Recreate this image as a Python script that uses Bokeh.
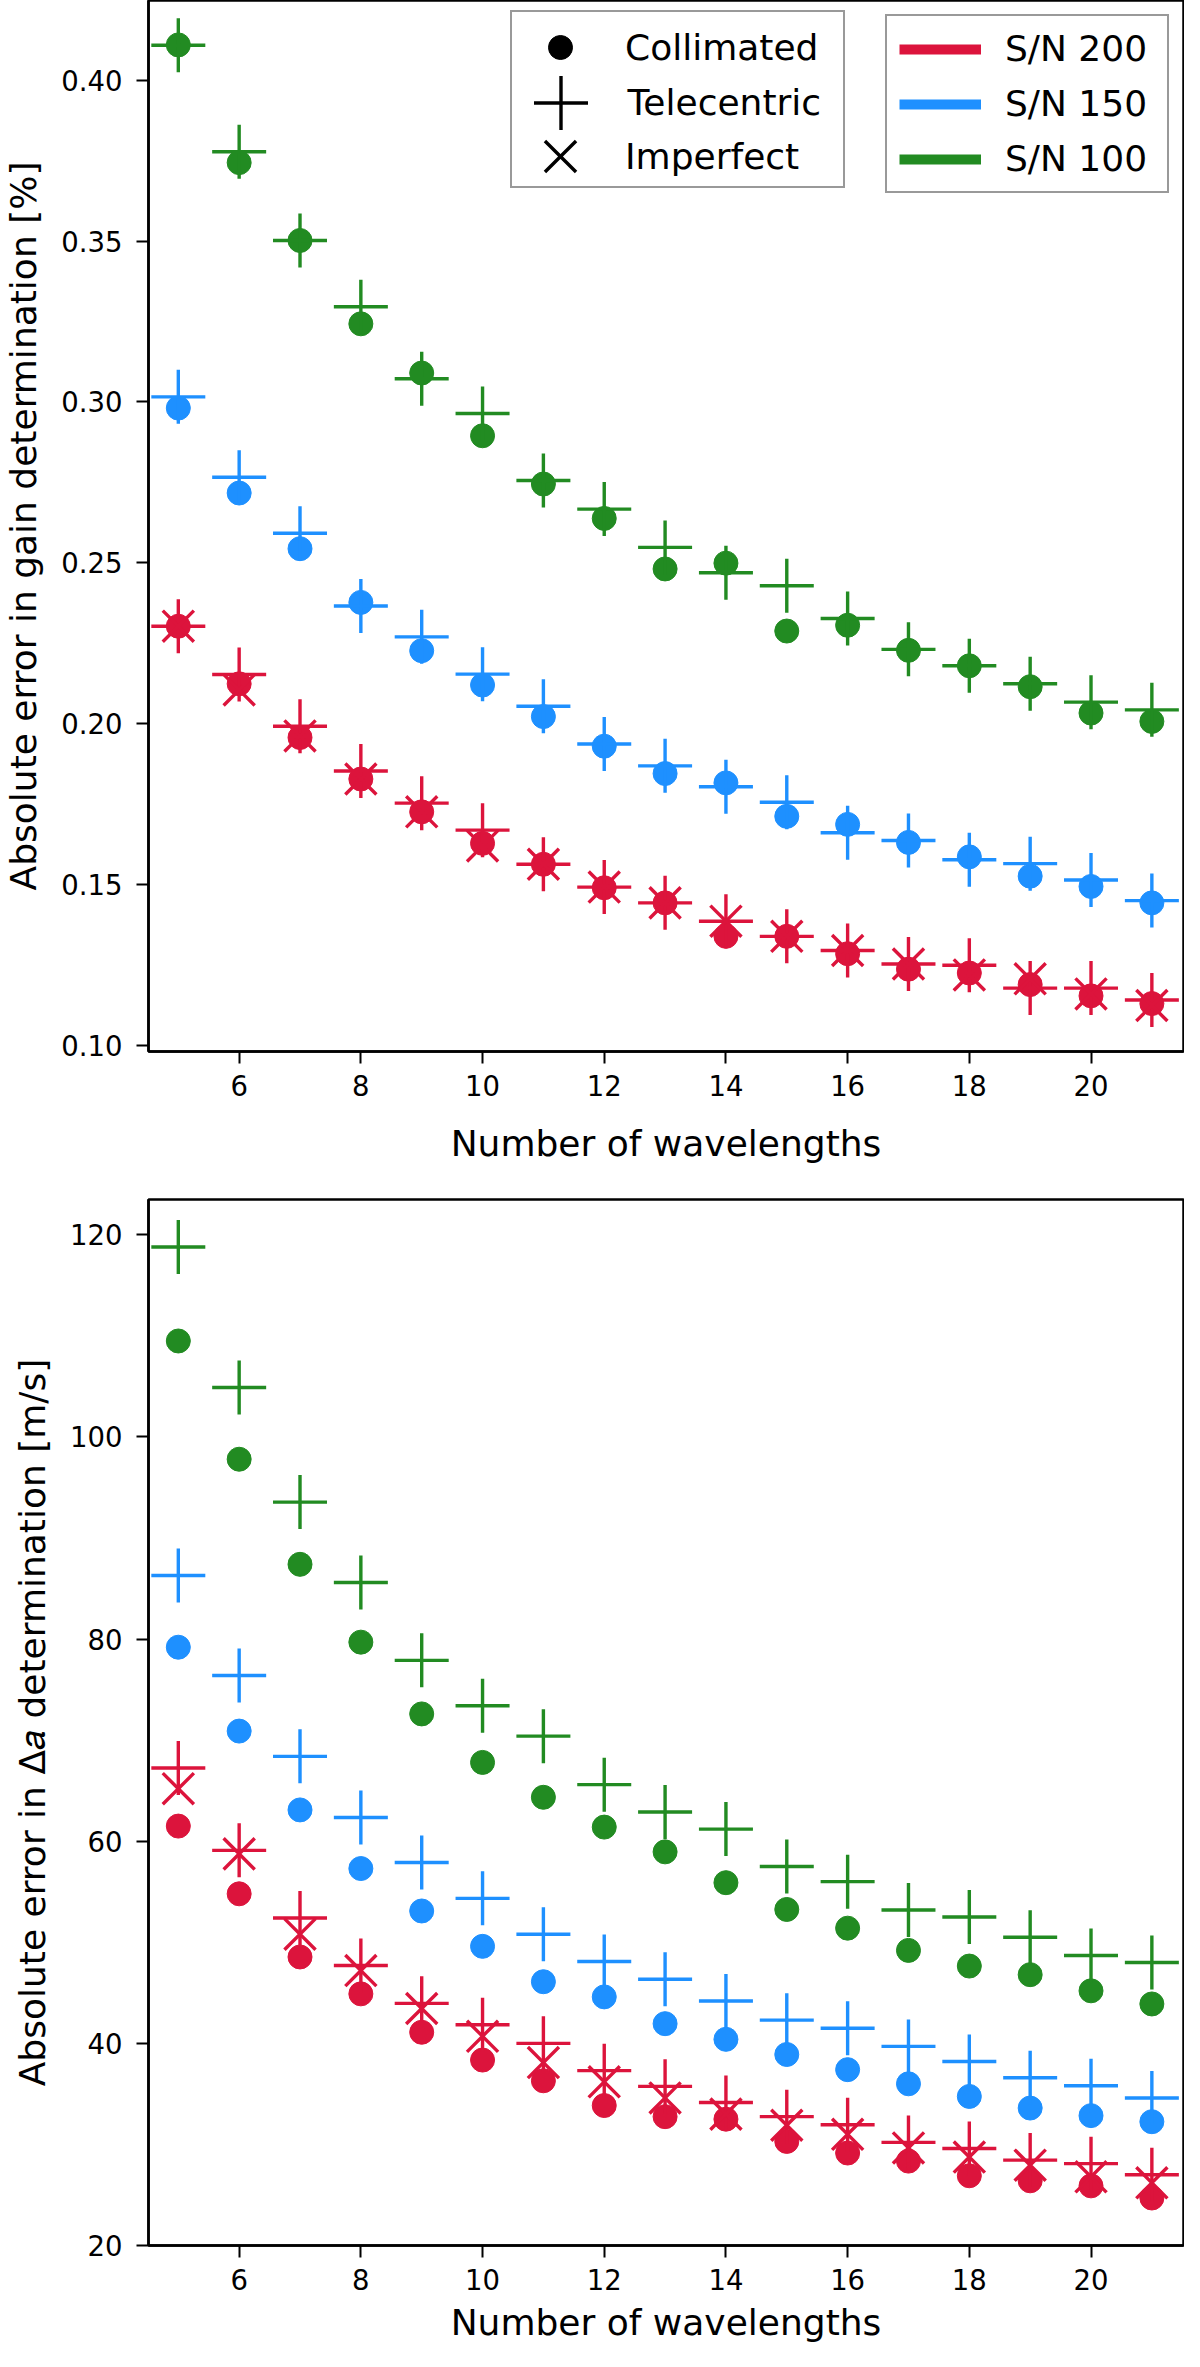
from bokeh.plotting import figure
from bokeh.layouts import column
from bokeh.models import Legend, LegendItem, Range1d, FixedTicker, NumeralTickFormatter
from bokeh.embed import file_html
from bokeh.resources import INLINE

# Number of wavelengths (x axis, both panels)
wavelengths = list(range(5, 22))

# Absolute error in gain determination [%]
gain_coll_200 = [0.2303, 0.2124, 0.1957, 0.1828, 0.1726, 0.1628, 0.1563, 0.1490, 0.1443,
                 0.1339, 0.1339, 0.1285, 0.1237, 0.1225, 0.1189, 0.1154, 0.1130]
gain_tele_200 = [0.2303, 0.2153, 0.1992, 0.1853, 0.1753, 0.1669, 0.1563, 0.1492, 0.1443,
                 0.1386, 0.1339, 0.1295, 0.1253, 0.1249, 0.1178, 0.1178, 0.1141]
gain_imp_200 = [0.2303, 0.2105, 0.1962, 0.1828, 0.1726, 0.1620, 0.1563, 0.1492, 0.1443,
                0.1386, 0.1339, 0.1295, 0.1253, 0.1219, 0.1207, 0.1160, 0.1124]
gain_coll_150 = [0.2981, 0.2717, 0.2544, 0.2377, 0.2227, 0.2120, 0.2022, 0.1930, 0.1845,
                 0.1816, 0.1712, 0.1687, 0.1631, 0.1586, 0.1526, 0.1494, 0.1443]
gain_tele_150 = [0.3016, 0.2766, 0.2592, 0.2366, 0.2270, 0.2154, 0.2054, 0.1937, 0.1869,
                 0.1804, 0.1756, 0.1661, 0.1637, 0.1577, 0.1565, 0.1514, 0.1450]
gain_coll_100 = [0.4110, 0.3744, 0.3502, 0.3243, 0.3090, 0.2895, 0.2745, 0.2638, 0.2481,
                 0.2499, 0.2288, 0.2306, 0.2228, 0.2180, 0.2115, 0.2033, 0.2007]
gain_tele_100 = [0.4109, 0.3778, 0.3502, 0.3296, 0.3072, 0.2964, 0.2756, 0.2667, 0.2548,
                 0.2469, 0.2429, 0.2327, 0.2231, 0.2180, 0.2124, 0.2067, 0.2043]

# Absolute error in delta-a determination [m/s]
da_coll_200 = [61.5, 54.8, 48.55, 44.9, 41.1, 38.35, 36.3, 33.85, 32.75, 32.5, 30.3,
               29.15, 28.35, 26.9, 26.4, 25.9, 24.7]
da_tele_200 = [67.25, 59.1, 52.4, 47.7, 43.96, 41.85, 40.0, 37.3, 35.75, 34.15, 32.75,
               31.95, 30.2, 29.6, 28.45, 28.1, 27.0]
da_imp_200 = [65.2, 58.75, 50.8, 47.2, 43.45, 40.7, 38.1, 36.2, 34.6, 33.0, 31.9,
              31.0, 29.65, 28.75, 27.95, 26.8, 26.2]
da_coll_150 = [79.2, 70.9, 63.1, 57.3, 53.1, 49.6, 46.1, 44.6, 41.95, 40.4, 38.9,
               37.4, 36.0, 34.75, 33.6, 32.85, 32.25]
da_tele_150 = [86.3, 76.4, 68.4, 62.35, 57.9, 54.35, 50.8, 48.1, 46.35, 44.2, 42.3,
               41.5, 39.7, 38.2, 36.6, 35.8, 34.6]
da_coll_100 = [109.5, 97.8, 87.4, 79.7, 72.6, 67.8, 64.35, 61.4, 58.95, 55.9, 53.25,
               51.4, 49.2, 47.65, 46.8, 45.2, 43.9]
da_tele_100 = [118.8, 104.9, 93.56, 85.6, 77.9, 73.4, 70.4, 65.6, 62.9, 61.2, 57.5,
               56.0, 53.2, 52.5, 50.5, 48.7, 48.0]

x_ticks = [6, 8, 10, 12, 14, 16, 18, 20]
gain_ticks = [0.10, 0.15, 0.20, 0.25, 0.30, 0.35, 0.40]
da_ticks = [20, 40, 60, 80, 100, 120]

sn_labels = ["S/N 200", "S/N 150", "S/N 100"]
sn_colors = ["#DC143C", "#1E90FF", "#228B22"]

FONT = "DejaVu Sans"
NAN = float("nan")
FH1 = 1051  # frame height of the top panel, used to place the legends
LW = 3.4


def style_axes(p, ylabel, yticks, label_gap):
    p.xgrid.visible = False
    p.ygrid.visible = False
    p.outline_line_color = "black"
    p.outline_line_width = 2.5
    for ax in (p.xaxis[0], p.yaxis[0]):
        ax.axis_line_width = 2.5
        ax.axis_line_color = "black"
        ax.major_tick_out = 12
        ax.major_tick_in = 0
        ax.major_tick_line_width = 2
        ax.minor_tick_line_color = None
        ax.major_label_text_font = FONT
        ax.major_label_text_font_size = "27.5px"
        ax.major_label_text_color = "black"
        ax.axis_label_text_font = FONT
        ax.axis_label_text_font_size = "36px"
        ax.axis_label_text_font_style = "normal"
        ax.axis_label_text_color = "black"
    p.xaxis[0].ticker = FixedTicker(ticks=x_ticks)
    p.xaxis[0].axis_label = "Number of wavelengths"
    p.xaxis[0].major_label_standoff = 11
    p.xaxis[0].axis_label_standoff = label_gap
    p.yaxis[0].ticker = FixedTicker(ticks=yticks)
    p.yaxis[0].axis_label = ylabel
    p.yaxis[0].major_label_standoff = 14
    p.yaxis[0].axis_label_standoff = 14


def draw_series(p, coll, tele, imp):
    for i, color in enumerate(sn_colors):
        p.scatter(wavelengths, coll[i], marker="circle", size=24, color=color)
        p.scatter(wavelengths, tele[i], marker="cross", size=54, line_color=color, line_width=LW)
        if imp[i] is not None:
            p.scatter(wavelengths, imp[i], marker="x", size=44, line_color=color, line_width=LW)


# ---------------- top panel: gain ----------------
p1 = figure(width=1184, height=FH1 + 122, x_range=Range1d(4.51, 21.52), y_range=Range1d(0.0981, 0.4248),
            output_backend="svg", toolbar_location=None,
            min_border_left=131, min_border_right=1, min_border_top=0, min_border_bottom=122)
style_axes(p1, "Absolute error in gain determination [%]", gain_ticks, 24)
p1.yaxis[0].formatter = NumeralTickFormatter(format="0.00")
draw_series(p1, [gain_coll_200, gain_coll_150, gain_coll_100],
            [gain_tele_200, gain_tele_150, gain_tele_100],
            [gain_imp_200, None, None])

# legend of marker types: a frame plus one entry per marker so each keeps its size
frame_r = p1.scatter(x=[NAN], y=[NAN], marker="square", size=1, fill_alpha=0, line_alpha=0)
p1.add_layout(Legend(items=[LegendItem(label="", renderers=[frame_r])], location=(362, FH1 - 14 - 174),
                     glyph_width=331, glyph_height=174, padding=0, spacing=0, margin=0,
                     label_standoff=0, label_width=0, label_height=0,
                     border_line_color="#333333", border_line_width=2,
                     background_fill_color="white", background_fill_alpha=0.8), "center")

leg_circle = p1.scatter(x=[NAN], y=[NAN], marker="circle", size=24, color="black")
leg_cross = p1.scatter(x=[NAN], y=[NAN], marker="cross", size=54, line_color="black", line_width=LW)
leg_x = p1.scatter(x=[NAN], y=[NAN], marker="x", size=44, line_color="black", line_width=LW)
marker_entries = [("Collimated", leg_circle, 60, 47, 35),
                  ("Telecentric", leg_cross, 135, 102, -2),
                  ("Imperfect", leg_x, 110, 156, 10)]
for label, rend, g, centre_from_top, standoff in marker_entries:
    loc = (412 - g / 2, FH1 - centre_from_top - g / 2)
    p1.add_layout(Legend(items=[LegendItem(label=label, renderers=[rend])], location=loc,
                         glyph_width=g, glyph_height=g, padding=0, margin=0, spacing=0,
                         label_standoff=standoff, border_line_alpha=0, background_fill_alpha=0,
                         label_text_font=FONT, label_text_font_size="36px",
                         label_text_color="black"), "center")

# legend of S/N colours
sn_items = []
for label, color in zip(sn_labels, sn_colors):
    r = p1.line(x=[NAN, NAN], y=[NAN, NAN], line_color=color, line_width=10)
    sn_items.append(LegendItem(label=label, renderers=[r]))
p1.add_layout(Legend(items=sn_items, location="top_right", margin=14,
                     glyph_width=82, glyph_height=40, spacing=14, padding=12,
                     label_standoff=24, label_width=150,
                     border_line_color="#333333", border_line_width=2,
                     background_fill_color="white", background_fill_alpha=0.8,
                     label_text_font=FONT, label_text_font_size="36px",
                     label_text_color="black"), "center")

# ---------------- bottom panel: delta a ----------------
p2 = figure(width=1184, height=1178, x_range=Range1d(4.51, 21.52), y_range=Range1d(20, 123.5),
            output_backend="svg", toolbar_location=None,
            min_border_left=131, min_border_right=1, min_border_top=26, min_border_bottom=106)
style_axes(p2, "Absolute error in \u0394\U0001D44E determination [m/s]", da_ticks, 9)
draw_series(p2, [da_coll_200, da_coll_150, da_coll_100],
            [da_tele_200, da_tele_150, da_tele_100],
            [da_imp_200, None, None])

layout = column(p1, p2, spacing=0)
open("out.html", "w").write(file_html(layout, INLINE))
